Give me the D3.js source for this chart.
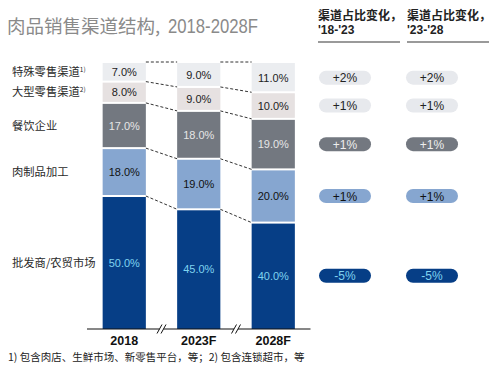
<!DOCTYPE html>
<html><head><meta charset="utf-8">
<script src="https://cdn.jsdelivr.net/npm/d3@7"></script>
<style>
html,body{margin:0;padding:0;background:#fff;}
svg{display:block;}
</style></head>
<body>
<svg id="c" width="500" height="370"></svg>
<script>
// ---- data ----
const years = ["2018", "2023F", "2028F"];
const categories = ["批发商/农贸市场", "肉制品加工", "餐饮企业", "大型零售渠道", "特殊零售渠道"]; // bottom -> top
const notes = ["", "", "", "2)", "1)"];
const wholesale  = [50, 45, 40];
const processing = [18, 19, 20];
const catering   = [17, 18, 19];
const bigRetail  = [8, 9, 10];
const special    = [7, 9, 11];
const changeLabels1823 = ["-5%", "+1%", "+1%", "+1%", "+2%"];
const changeLabels2328 = ["-5%", "+1%", "+1%", "+1%", "+2%"];
const headers = [["渠道占比变化，", "'18-'23"], ["渠道占比变化，", "'23-'28"]];
const title = "肉品销售渠道结构, ";
const titleYears = "2018-2028F";
const footnote = "1) 包含肉店、生鲜市场、新零售平台，等；2) 包含连锁超市，等";

const seriesValues = [wholesale, processing, catering, bigRetail, special];
const table = years.map((y, i) => {
  const o = {year: y};
  categories.forEach((c, k) => o[c] = seriesValues[k][i]);
  return o;
});

// ---- styles ----
const fills = ["#063e86", "#86a6d0", "#737880", "#e6e1e1", "#ebedf0"];
const textCols = ["#7fd3f0", "#111", "#e6e6e6", "#222", "#222"];
const pillFills = ["#063e86", "#86a6d0", "#737880", "#e7e9ed", "#e7e9ed"];
const pillText = ["#7fd3f0", "#111", "#eeeeee", "#222", "#222"];

const svg = d3.select("#c");
const x = d3.scaleBand().domain(years).range([87, 310.5]).paddingInner(0.42).paddingOuter(0.21);
const y = d3.scaleLinear().domain([0, 100]).range([329, 63]);
const stack = d3.stack().keys(categories)(table);

// title
svg.append("text").attr("x", 7).attr("y", 33)
  .style("font-family", "'Noto Sans CJK SC', sans-serif").style("font-size", "18.5px").style("fill", "#8a8a8a")
  .text(title);
svg.append("text").attr("x", 168).attr("y", 33)
  .attr("textLength", 90).attr("lengthAdjust", "spacingAndGlyphs")
  .style("font-family", "'Liberation Sans', Arial, sans-serif").style("font-size", "20px").style("fill", "#8a8a8a")
  .text(titleYears);

// bars
const bw = x.bandwidth();
stack.forEach((s, k) => {
  const g = svg.append("g");
  s.forEach((d, i) => {
    const yr = years[i];
    const top = y(d[1]) + (k === categories.length - 1 ? 0 : 1);
    const bot = y(d[0]) - (k === 0 ? 0 : 1);
    g.append("rect").attr("x", x(yr)).attr("y", top).attr("width", bw).attr("height", bot - top)
      .attr("fill", fills[k]);
    g.append("text").attr("x", x(yr) + bw / 2).attr("y", (y(d[0]) + y(d[1])) / 2 + 4)
      .attr("text-anchor", "middle")
      .style("font-family", "'Liberation Sans', Arial, sans-serif").style("font-size", "11px")
      .style("fill", textCols[k])
      .text(d3.format(".1f")(d[1] - d[0]) + "%");
  });
});

// connector dashed lines
const bounds = [];
stack.forEach((s, k) => { if (k >= 1) bounds.push(s.map(d => d[0])); });
bounds.push(stack[stack.length - 1].map(d => d[1]));
bounds.forEach(b => {
  for (let i = 0; i < years.length - 1; i++) {
    svg.append("line")
      .attr("x1", x(years[i]) + bw).attr("y1", y(b[i]) - (b[i] === 100 ? 1 : 0))
      .attr("x2", x(years[i + 1])).attr("y2", y(b[i + 1]) - (b[i + 1] === 100 ? 1 : 0))
      .attr("stroke", "#333").attr("stroke-width", 1).attr("stroke-dasharray", "3,2");
  }
});

// axis
svg.append("line").attr("x1", 87).attr("x2", 310.5).attr("y1", y(0)).attr("y2", y(0))
  .attr("stroke", "#111").attr("stroke-width", 1.2);
for (let i = 0; i < years.length - 1; i++) {
  const cx = (x(years[i]) + bw + x(years[i + 1])) / 2;
  svg.append("rect").attr("x", cx - 2).attr("y", y(0) - 2).attr("width", 4).attr("height", 4).attr("fill", "#fff");
  [-2, 2].forEach(o => svg.append("line")
    .attr("x1", cx + o - 2.5).attr("y1", y(0) + 4.5).attr("x2", cx + o + 2.5).attr("y2", y(0) - 4.5)
    .attr("stroke", "#111").attr("stroke-width", 1));
}
years.forEach(yr => svg.append("text").attr("x", x(yr) + bw / 2).attr("y", 345)
  .attr("text-anchor", "middle")
  .style("font-family", "'Liberation Sans', Arial, sans-serif").style("font-size", "12.5px").style("font-weight", "bold")
  .style("fill", "#111").text(yr));

// left category labels (aligned with 2018 segments)
stack.forEach((s, k) => {
  const d = s[0];
  const t = svg.append("text").attr("x", 12).attr("y", (y(d[0]) + y(d[1])) / 2 + 4)
    .style("font-family", "'Noto Sans CJK SC', sans-serif").style("font-size", "11.3px")
    .style("fill", "#2a2a2a").text(categories[k]);
  if (notes[k]) t.append("tspan").attr("dy", -4).style("font-size", "6.5px").text(notes[k]);
});

// right headers
const colX = [318, 407];
headers.forEach((h, j) => {
  svg.append("text").attr("x", colX[j]).attr("y", 20)
    .style("font-family", "'Noto Sans CJK SC', sans-serif").style("font-size", "12px").style("font-weight", "bold")
    .style("fill", "#222").text(h[0]);
  svg.append("text").attr("x", colX[j]).attr("y", 34)
    .style("font-family", "'Liberation Sans', Arial, sans-serif").style("font-size", "12px").style("font-weight", "bold")
    .style("fill", "#222").text(h[1]);
  svg.append("line").attr("x1", colX[j]).attr("x2", colX[j] + 82).attr("y1", 42).attr("y2", 42)
    .attr("stroke", "#9a9a9a").attr("stroke-width", 2);
});

// change pills (aligned with 2028 segments)
const changes = [changeLabels1823, changeLabels2328];
const pillCx = [345, 432];
changes.forEach((arr, j) => {
  stack.forEach((s, k) => {
    const d = s[years.length - 1];
    const cy = (y(d[0]) + y(d[1])) / 2;
    svg.append("rect").attr("x", pillCx[j] - 26).attr("y", cy - 7).attr("width", 52).attr("height", 14)
      .attr("rx", 7).attr("fill", pillFills[k]);
    svg.append("text").attr("x", pillCx[j]).attr("y", cy + 4.5).attr("text-anchor", "middle")
      .style("font-family", "'Liberation Sans', Arial, sans-serif").style("font-size", "12px")
      .style("fill", pillText[k]).text(arr[k]);
  });
});

// footnote
svg.append("text").attr("x", 8).attr("y", 361)
  .style("font-family", "'Noto Sans CJK SC', sans-serif").style("font-size", "10.5px")
  .style("fill", "#222").text(footnote);
</script>
</body></html>
